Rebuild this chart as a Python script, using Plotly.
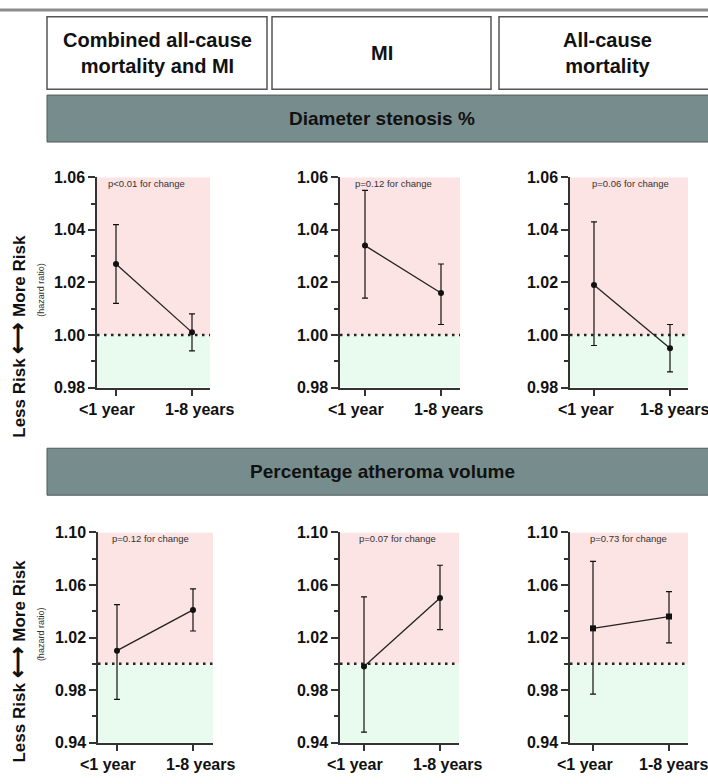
import plotly.graph_objects as go

# ---------------- data ----------------
categories = ["<1 year", "1-8 years"]
outcomes = ["Combined all-cause<br>mortality and MI", "MI", "All-cause<br>mortality"]
measures = ["Diameter stenosis %", "Percentage atheroma volume"]

ds_p = ["p<0.01 for change", "p=0.12 for change", "p=0.06 for change"]
ds_hr = [[1.027, 1.001], [1.034, 1.016], [1.019, 0.995]]
ds_lo = [[1.012, 0.994], [1.014, 1.004], [0.996, 0.986]]
ds_hi = [[1.042, 1.008], [1.055, 1.027], [1.043, 1.004]]

pav_p = ["p=0.12 for change", "p=0.07 for change", "p=0.73 for change"]
pav_hr = [[1.010, 1.041], [0.998, 1.050], [1.027, 1.036]]
pav_lo = [[0.973, 1.025], [0.948, 1.026], [0.977, 1.016]]
pav_hi = [[1.045, 1.057], [1.051, 1.075], [1.078, 1.055]]

ds_ticks = [0.98, 1.00, 1.02, 1.04, 1.06]
ds_minor = [0.99, 1.01, 1.03, 1.05]
pav_ticks = [0.94, 0.98, 1.02, 1.06, 1.10]
pav_minor = [0.96, 1.00, 1.04, 1.08]
reference_hr = 1.0

y_title = "Less Risk <span style='font-size:22px'>\u27f7</span> More Risk"
y_subtitle = "(hazard ratio)"

# ---------------- layout geometry (pixels) ----------------
W, H = 708, 784
def px(x):
    return x / W
def py(y):
    return 1 - y / H

FONT = "Liberation Sans, Arial, Helvetica, sans-serif"
AX = "#333333"
PINK = "#fde4e4"
GREEN = "#e9fbef"
BANNER = "#778c8c"

rows = [
    dict(top=173, bottom=388, banner=(89, 137),
         cols=[(97, 210, 116, 192), (340, 460, 365, 441), (570, 688, 594, 670)],
         pdx=[9, 13, 20], title_y=336, sub_y=288,
         hr=ds_hr, lo=ds_lo, hi=ds_hi, p=ds_p, ticks=ds_ticks, minor=ds_minor,
         symbols=["circle", "circle", "circle"]),
    dict(top=536, bottom=751, banner=(450, 498),
         cols=[(98, 213, 117, 193), (340, 459, 364, 440), (570, 688, 593, 669)],
         pdx=[12, 17, 18], title_y=668, sub_y=640,
         hr=pav_hr, lo=pav_lo, hi=pav_hi, p=pav_p, ticks=pav_ticks, minor=pav_minor,
         symbols=["circle", "circle", "square"]),
]
label_shift = [[-9, 7], [-9, 7], [-8, 4]]

fig = go.Figure()
shapes = []
annotations = []
layout_axes = {}

# top gray rule
shapes.append(dict(type="line", xref="paper", yref="paper", x0=0, x1=1,
                   y0=py(2), y1=py(2), line=dict(color="#8c8c8c", width=3)))

# header boxes
boxes = [(47, 267), (272, 491), (499, 716)]
for (x0, x1), txt in zip(boxes, outcomes):
    shapes.append(dict(type="rect", xref="paper", yref="paper",
                       x0=px(x0), x1=px(x1), y0=py(83), y1=py(9),
                       fillcolor="white", line=dict(color="#555555", width=1.5)))
    annotations.append(dict(xref="paper", yref="paper", x=px((x0 + x1) / 2), y=py(46),
                            text=txt, showarrow=False, xanchor="center", yanchor="middle",
                            font=dict(family=FONT, size=20, color="#111111", weight="bold")))

n = 0
for r, row in enumerate(rows):
    # banner
    b0, b1 = row["banner"]
    shapes.append(dict(type="rect", xref="paper", yref="paper",
                       x0=px(47), x1=px(716), y0=py(b1), y1=py(b0),
                       fillcolor=BANNER, line=dict(color="#4f5c5c", width=1)))
    annotations.append(dict(xref="paper", yref="paper", x=px(382), y=py((b0 + b1) / 2),
                            xanchor="center", yanchor="middle",
                            text=measures[r], showarrow=False,
                            font=dict(family=FONT, size=19, color="#111111", weight="bold")))
    # y titles
    annotations.append(dict(xref="paper", yref="paper", x=px(18), y=py(row["title_y"]),
                            xanchor="center", yanchor="middle",
                            text=y_title, textangle=-90, showarrow=False,
                            font=dict(family=FONT, size=17, color="#111111", weight="bold")))
    annotations.append(dict(xref="paper", yref="paper", x=px(41), y=py(row["sub_y"]),
                            xanchor="center", yanchor="middle",
                            text=y_subtitle, textangle=-90, showarrow=False,
                            font=dict(family=FONT, size=9, color="#333333")))

    ymin, ymax = row["ticks"][0], row["ticks"][-1]
    for c in range(3):
        n += 1
        L, R, t0, t1 = row["cols"][c]
        unit = t1 - t0
        xr = [-(t0 - L) / unit, 1 + (R - t1) / unit]
        xa = "x" if n == 1 else f"x{n}"
        ya = "y" if n == 1 else f"y{n}"
        xkey = "xaxis" if n == 1 else f"xaxis{n}"
        ykey = "yaxis" if n == 1 else f"yaxis{n}"

        layout_axes[xkey] = dict(domain=[px(L), px(R)], anchor=ya, type="category",
                                 range=xr, showline=True, linecolor=AX, linewidth=1.5,
                                 ticks="outside", ticklen=7, tickwidth=1.5, tickcolor=AX,
                                 showticklabels=False, showgrid=False, zeroline=False,
                                 fixedrange=True)
        layout_axes[ykey] = dict(domain=[py(row["bottom"]), py(row["top"])], anchor=xa,
                                 range=[ymin, ymax], tickvals=row["ticks"],
                                 ticktext=[f"{v:.2f}" for v in row["ticks"]],
                                 showline=True, linecolor=AX, linewidth=1.5,
                                 ticks="outside", ticklen=7, tickwidth=1.5, tickcolor=AX,
                                 tickfont=dict(family=FONT, size=16, color="#111111", weight="bold"),
                                 showgrid=False, zeroline=False, fixedrange=True,
                                 minor=dict(tickvals=row["minor"], ticks="outside", ticklen=4,
                                            tickwidth=1.5, tickcolor=AX, showgrid=False))

        # risk zones
        shapes.append(dict(type="rect", xref=f"{xa} domain", yref=ya, x0=0, x1=1,
                           y0=reference_hr, y1=ymax, fillcolor=PINK, line=dict(width=0),
                           layer="below"))
        shapes.append(dict(type="rect", xref=f"{xa} domain", yref=ya, x0=0, x1=1,
                           y0=ymin, y1=reference_hr, fillcolor=GREEN, line=dict(width=0),
                           layer="below"))
        shapes.append(dict(type="line", xref=f"{xa} domain", yref=ya, x0=0, x1=1,
                           y0=reference_hr, y1=reference_hr,
                           line=dict(color="#222222", width=2.5, dash="2.5px,4.5px"),
                           layer="below"))

        hr = row["hr"][c]
        lo = row["lo"][c]
        hi = row["hi"][c]
        fig.add_trace(go.Scatter(
            x=categories, y=hr, xaxis=xa, yaxis=ya, mode="lines+markers",
            line=dict(color="#222222", width=1.3),
            marker=dict(size=6, color="#111111", symbol=row["symbols"][c]),
            error_y=dict(type="data", symmetric=False,
                         array=[h - m for h, m in zip(hi, hr)],
                         arrayminus=[m - l for m, l in zip(hr, lo)],
                         color="#111111", thickness=1.2, width=3),
            showlegend=False, cliponaxis=False, hoverinfo="x+y"))

        # p-value text
        annotations.append(dict(xref=f"{xa} domain", yref=f"{ya} domain", x=0, y=1,
                                xanchor="left", yanchor="middle", xshift=row["pdx"][c], yshift=-6,
                                text=row["p"][c], showarrow=False,
                                font=dict(family=FONT, size=9.5, color="#333333")))
        # category labels
        for i, cat in enumerate(categories):
            annotations.append(dict(xref=xa, yref=f"{ya} domain", x=i, y=0,
                                    xanchor="center", yanchor="middle",
                                    xshift=label_shift[c][i], yshift=-22,
                                    text=cat, showarrow=False,
                                    font=dict(family=FONT, size=16, color="#111111", weight="bold")))

fig.update_layout(width=W, height=H, margin=dict(l=0, r=0, t=0, b=0),
                  paper_bgcolor="white", plot_bgcolor="rgba(0,0,0,0)",
                  shapes=shapes, annotations=annotations, showlegend=False,
                  **layout_axes)

fig.write_html("out.html", config={"displayModeBar": False},
               post_script="document.body.style.margin='0';document.body.style.overflow='hidden';")
